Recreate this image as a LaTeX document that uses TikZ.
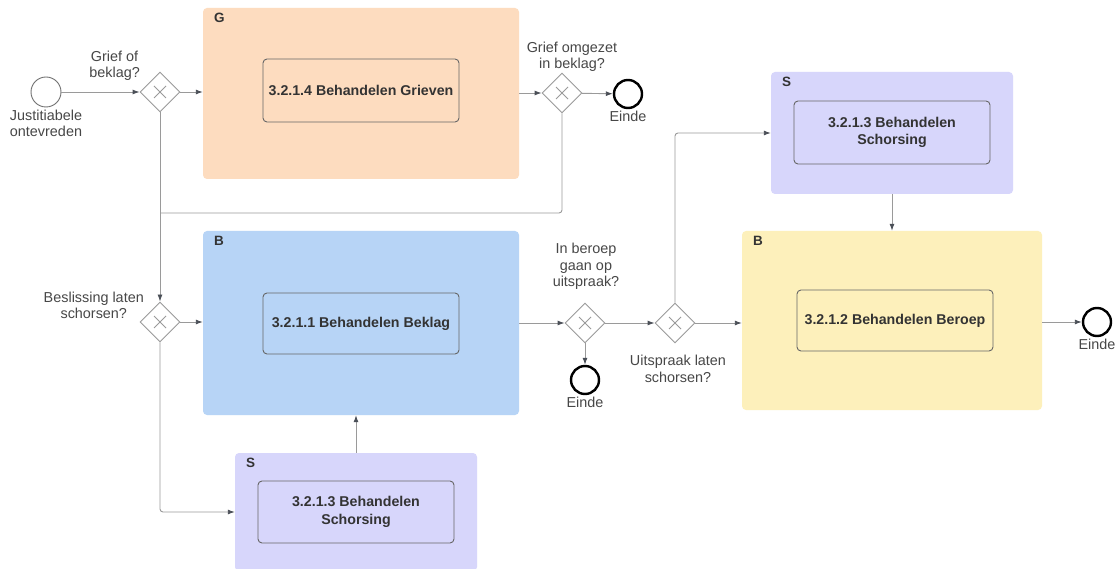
\documentclass[tikz,border=0pt]{standalone}
\usepackage{fontspec}
\setmainfont{Liberation Sans}
\usetikzlibrary{arrows.meta,shapes.geometric}
\definecolor{peach}{HTML}{FDDCBF}
\definecolor{skyblue}{HTML}{B7D4F6}
\definecolor{lavender}{HTML}{D7D6FB}
\definecolor{sand}{HTML}{FDF0BB}
\definecolor{ink}{HTML}{333333}
\definecolor{wire}{HTML}{9A9A9A}
\definecolor{tip}{HTML}{4A4F57}
\tikzset{
  pool/.style={rectangle, rounded corners=4pt, draw=none, inner sep=0pt},
  poollabel/.style={anchor=north west, font=\bfseries\fontsize{13.5}{15}\selectfont, text=ink, inner sep=0pt},
  task/.style={rectangle, rounded corners=4pt, draw=ink!75, line width=0.9pt, inner sep=0pt,
    font=\bfseries\fontsize{14.2}{17.5}\selectfont, text=ink, align=center},
  gate/.style={diamond, draw=wire, line width=0.9pt, fill=white, minimum width=40pt, minimum height=40pt, inner sep=0pt,
    path picture={\draw[wire, line width=0.9pt] ([shift={(-6pt,-6pt)}]path picture bounding box.center) -- ([shift={(6pt,6pt)}]path picture bounding box.center)
      ([shift={(-6pt,6pt)}]path picture bounding box.center) -- ([shift={(6pt,-6pt)}]path picture bounding box.center);}},
  startev/.style={circle, draw=ink!70, line width=0.9pt, fill=white, minimum size=30pt, inner sep=0pt},
  endev/.style={circle, draw=black, line width=2.4pt, fill=white, minimum size=28pt, inner sep=0pt},
  lbl/.style={font=\fontsize{14.4}{16.5}\selectfont, text=ink!90, align=center, inner sep=0pt},
  flow/.style={draw=wire, line width=0.9pt, -{Latex[length=7pt,width=5pt,fill=tip,color=tip]}},
  plain/.style={draw=wire, line width=0.9pt},
}
\begin{document}
\begin{tikzpicture}[x=1pt,y=-1pt]
\useasboundingbox (0,0) rectangle (1117,569);
\clip (0,0) rectangle (1117,569);
\fill[white] (0,0) rectangle (1117,569);

% pools
\node[pool, fill=peach, minimum width=316pt, minimum height=171pt] (G) at (361,93.5) {};
\node[poollabel] (Glab) at ([xshift=11pt,yshift=-5pt]G.north west) {G};
\node[pool, fill=skyblue, minimum width=316pt, minimum height=184pt] (B1) at (361,323) {};
\node[poollabel] (B1lab) at ([xshift=11pt,yshift=-5pt]B1.north west) {B};
\node[pool, fill=lavender, minimum width=242pt, minimum height=118pt] (S1) at (356,512) {};
\node[poollabel] (S1lab) at ([xshift=11pt,yshift=-5pt]S1.north west) {S};
\node[pool, fill=lavender, minimum width=242pt, minimum height=122pt] (S2) at (892,133) {};
\node[poollabel] (S2lab) at ([xshift=11pt,yshift=-5pt]S2.north west) {S};
\node[pool, fill=sand, minimum width=300pt, minimum height=179pt] (B2) at (892,320.5) {};
\node[poollabel] (B2lab) at ([xshift=11pt,yshift=-5pt]B2.north west) {B};

% tasks
\node[task, minimum width=196pt, minimum height=63pt] (tG) at (361,90.5) {3.2.1.4 Behandelen Grieven};
\node[task, minimum width=196pt, minimum height=61pt] (tB1) at (361,323.5) {3.2.1.1 Behandelen Beklag};
\node[task, minimum width=196pt, minimum height=62pt] (tS1) at (356,512) {3.2.1.3 Behandelen\\Schorsing};
\node[task, minimum width=196pt, minimum height=63pt] (tS2) at (892,132.5) {3.2.1.3 Behandelen\\Schorsing};
\node[task, minimum width=196pt, minimum height=61pt] (tB2) at (895,320.5) {3.2.1.2 Behandelen Beroep};

% events and gateways
\node[startev] (start) at (46,92) {};
\node[lbl, anchor=north] (startlab) at ([yshift=-2pt]start.south) {Justitiabele\\ontevreden};
\node[gate] (gw1) at (160,92) {};
\node[lbl, anchor=south east] (gw1lab) at (140,81) {Grief of\\beklag?};
\node[gate] (gw2) at (562,93) {};
\node[lbl, anchor=south] (gw2lab) at (572,72) {Grief omgezet\\in beklag?};
\node[endev] (end1) at (628,94) {};
\node[lbl, anchor=north] (end1lab) at ([yshift=-2pt]end1.south) {Einde};
\node[gate] (gw3) at (160,322) {};
\node[lbl, anchor=south east] (gw3lab) at (144,319) {Beslissing laten\\schorsen?};
\node[gate] (gw4) at (585,323) {};
\node[lbl, anchor=south] (gw4lab) at (586,290) {In beroep\\gaan op\\uitspraak?};
\node[endev] (end2) at (585,380) {};
\node[lbl, anchor=north] (end2lab) at ([yshift=-2pt]end2.south) {Einde};
\node[gate] (gw5) at (675,323) {};
\node[lbl, anchor=north] (gw5lab) at (678,355) {Uitspraak laten\\schorsen?};
\node[endev] (end3) at (1097,322) {};
\node[lbl, anchor=north] (end3lab) at ([yshift=-2pt]end3.south) {Einde};

\coordinate (join) at (160,213);

% flows
\draw[flow] (start) -- (gw1);
\draw[flow] (gw1) -- (gw1 -| G.west);
\draw[flow] (gw2 -| G.east) -- (gw2);
\draw[flow] (gw2) -- (end1);
\draw[plain, rounded corners=3pt] (gw2.south) |- (join);
\draw[flow] (gw1.south) -- (gw3.north);
\draw[flow] (gw3) -- (gw3 -| B1.west);
\draw[flow, rounded corners=3pt] (gw3.south) |- (S1.west);
\draw[flow] (S1.north) -- (S1.north |- B1.south);
\draw[flow] (gw4 -| B1.east) -- (gw4);
\draw[flow] (gw4) -- (end2);
\draw[flow] (gw4) -- (gw5);
\draw[flow] (gw5) -- (gw5 -| B2.west);
\draw[flow, rounded corners=3pt] (gw5.north) |- (S2.west);
\draw[flow] (S2.south) -- (S2.south |- B2.north);
\draw[flow] (end3 -| B2.east) -- (end3);
\end{tikzpicture}
\end{document}
